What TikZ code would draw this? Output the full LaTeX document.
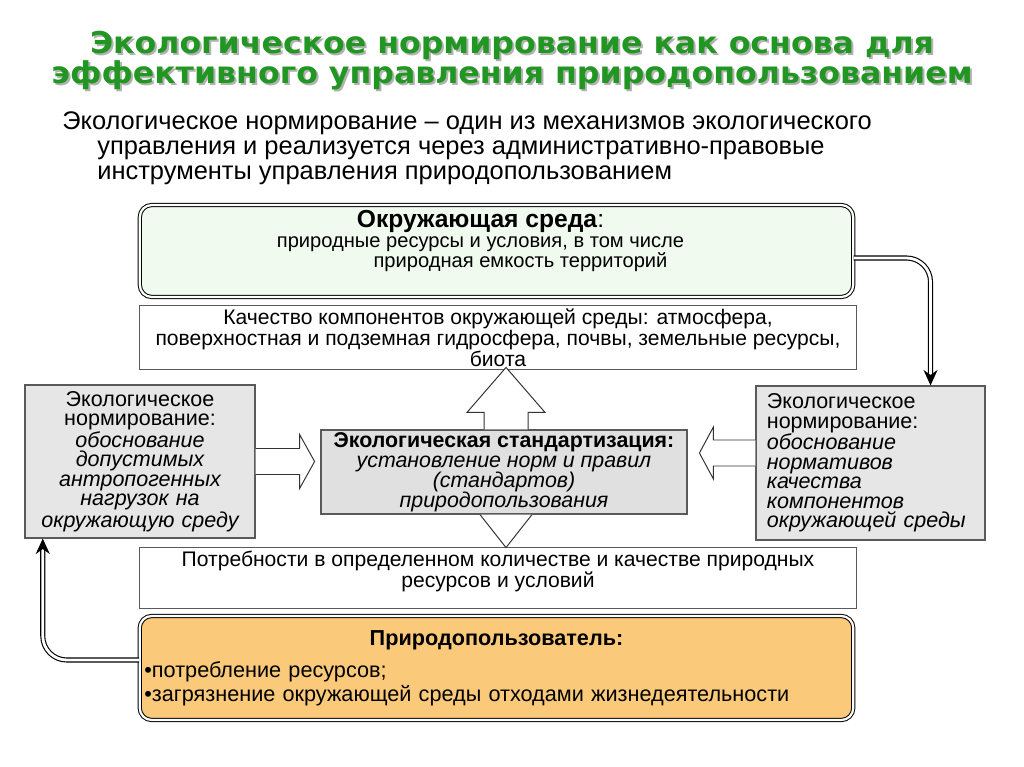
\documentclass[tikz,border=0pt]{standalone}
\usepackage{fontspec}
\setmainfont{Liberation Sans}
\newfontfamily\headfont[FakeStretch=1.05]{DejaVu Sans}
\usetikzlibrary{positioning,calc,arrows.meta}

\definecolor{titlegreen}{RGB}{34,150,34}
\definecolor{envfill}{RGB}{240,250,238}
\definecolor{normgray}{RGB}{230,230,230}
\definecolor{stdgray}{RGB}{224,224,224}
\definecolor{userfill}{RGB}{251,201,122}
\definecolor{edgegray}{RGB}{90,90,90}

\newcommand\leadfont{\fontsize{18.1}{18.1}\selectfont}
\newcommand\plainfont{\fontsize{15}{13.9}\selectfont}
\newcommand\envfont{\fontsize{14.3}{14.2}\selectfont}
\newcommand\grayfont{\fontsize{15.3}{13.8}\selectfont}
\newcommand\stdfont{\fontsize{15.2}{14.2}\selectfont}
\newcommand\userfont{\fontsize{15.4}{17}\selectfont}

\tikzset{
  titletext/.style={font=\headfont\bfseries\fontsize{21.4}{21.3}\selectfont, align=center, inner sep=0pt},
  plainbox/.style={draw=edgegray, line width=0.8pt, fill=white, align=center, inner sep=2pt, font=\plainfont},
  roundbox/.style={draw=black, double=white, double distance=1.6pt, line width=0.7pt, rounded corners=0.3cm},
  graybox/.style={draw=edgegray, line width=0.8pt, fill=normgray, inner sep=0pt, font=\grayfont},
  blockarrow/.style={draw=black!80, line width=0.7pt, fill=white, line join=miter},
  conn/.style={draw=black, double=white, double distance=2pt, line width=0.8pt, rounded corners=0.6cm, -{Stealth[length=11pt,width=10pt]}},
}

\begin{document}
\begin{tikzpicture}[x=0.025cm, y=-0.025cm]
  \useasboundingbox (0,0) rectangle (1024,767);

  % заголовок
  \node[titletext, text=black!30] (titleshadow) at (514,63) {Экологическое нормирование как основа для\\эффективного управления природопользованием};
  \node[titletext, text=titlegreen] (title) at (512,61) {Экологическое нормирование как основа для\\эффективного управления природопользованием};
  \node[anchor=north west, align=left, inner sep=0pt, font=\leadfont] (lead) at (62,111) {Экологическое нормирование -- один из механизмов экологического\\\hspace*{0.875cm}управления и реализуется через административно-правовые\\\hspace*{0.875cm}инструменты управления природопользованием};

  % окружающая среда
  \node[roundbox, fill=envfill, minimum width=17.83cm, minimum height=2.3cm] (env) at (496.5,251) {};
  \node[below=0.15cm of env.north, xshift=-0.4cm, align=center, inner sep=0pt, font=\envfont] (envtext) {{\fontsize{17.5}{17}\selectfont\textbf{Окружающая среда}:}\\природные ресурсы и условия, в том числе\\\hspace*{2cm}природная емкость территорий};
  \node[plainbox, minimum width=17.9cm, minimum height=1.525cm] (qual) at (498,337.5) {Качество компонентов окружающей среды: атмосфера,\\поверхностная и подземная гидросфера, почвы, земельные ресурсы,\\биота};

  % нормирование и стандартизация
  \node[graybox, minimum width=5.75cm, minimum height=3.825cm, text width=5.6cm, align=center] (lnorm) at (140,461.5) {Экологическое\\нормирование:\\\itshape обоснование\\допустимых\\антропогенных\\нагрузок на\\окружающую среду};
  \node[graybox, minimum width=5.725cm, minimum height=3.85cm, text width=5.18cm, align=left] (rnorm) at (870.5,463) {Экологическое\\нормирование:\\\itshape обоснование\\нормативов\\качества\\компонентов\\окружающей среды};
  \node[graybox, fill=stdgray, minimum width=9.15cm, minimum height=2.1cm, align=center, font=\stdfont] (std) at (504,472) {\textbf{Экологическая стандартизация:}\\\textit{установление норм и правил}\\\textit{(стандартов)}\\\textit{природопользования}};

  % потребности и природопользователь
  \node[plainbox, minimum width=17.9cm, minimum height=1.5cm, text depth=0.45cm] (need) at (498,578) {Потребности в определенном количестве и качестве природных\\ресурсов и условий};
  \node[roundbox, fill=userfill, minimum width=17.83cm, minimum height=2.6cm, text width=17.6cm, align=left, font=\userfont] (user) at (496.5,668) {{\centering\textbf{Природопользователь:}\par}\vspace{6pt}•потребление ресурсов;\\•загрязнение окружающей среды отходами жизнедеятельности};

  % объёмные стрелки
  \draw[blockarrow] (lnorm.east) ++(0,-13) -- ++(44,0) -- ++(0,-14) -- ++(15,27) -- ++(-15,27) -- ++(0,-14) -- ++(-44,0);
  \draw[blockarrow] (rnorm.west) ++(0,-23) -- ++(-42,0) -- ++(0,-13) -- ++(-14,26) -- ++(14,26) -- ++(0,-13) -- ++(42,0);
  \draw[blockarrow] (std.north) ++(-20,0) -- ++(0,-17) -- ++(-17,0) -- ++(39,-45) -- ++(39,45) -- ++(-17,0) -- ++(0,17);
  \draw[blockarrow] (std.south) ++(-24,0) -- ++(26,33) -- ++(26,-33);

  % связи
  \draw[conn] ([yshift=-0.175cm]env.east) -| ([xshift=1.5cm]rnorm.north);
  \draw[conn] ([yshift=0.2cm]user.west) -| ([xshift=-2.43cm]lnorm.south);
\end{tikzpicture}
\end{document}
